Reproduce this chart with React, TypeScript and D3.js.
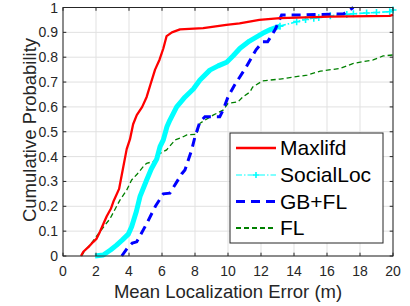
import React from 'react';
import * as d3 from 'd3';

const maxlifdX = [1.09, 1.23, 1.6, 1.84, 2.04, 2.24, 2.45, 2.65, 2.9, 3.05, 3.4, 3.56, 3.86, 4.06, 4.25, 4.47, 4.8, 5.07, 5.3, 5.58, 5.85, 6.08, 6.28, 6.6, 7.09, 8.5, 9.9, 10.7, 11.9, 13.15, 16.2, 19.8, 20];
const maxlifdY = [0, 0.017, 0.04, 0.057, 0.07, 0.098, 0.13, 0.16, 0.19, 0.218, 0.27, 0.326, 0.43, 0.47, 0.53, 0.567, 0.6, 0.64, 0.69, 0.75, 0.79, 0.835, 0.885, 0.9, 0.912, 0.917, 0.93, 0.936, 0.95, 0.957, 0.963, 0.966, 0.97];

const socialX = [1.94, 2.44, 2.9, 3.25, 3.6, 3.96, 4.16, 4.45, 4.67, 5.07, 5.35, 5.68, 5.88, 6.08, 6.3, 6.48, 6.89, 7.4, 7.9, 8.3, 8.9, 9.4, 9.92, 10.3, 10.73, 11.3, 12.1, 12.6, 13.15, 14.16, 14.7, 15.2, 15.5, 16.2, 17.2, 17.6, 18.4, 19.0, 19.8, 20];
const socialY = [0, 0.004, 0.025, 0.044, 0.065, 0.088, 0.118, 0.18, 0.24, 0.306, 0.35, 0.39, 0.44, 0.467, 0.52, 0.547, 0.6, 0.64, 0.672, 0.708, 0.748, 0.765, 0.78, 0.805, 0.836, 0.865, 0.896, 0.912, 0.925, 0.943, 0.952, 0.957, 0.96, 0.967, 0.972, 0.975, 0.978, 0.98, 0.983, 0.99];

const gbflX = [3.56, 3.96, 4.2, 4.47, 5.07, 5.6, 6.08, 6.48, 7.19, 7.39, 7.8, 8.0, 8.3, 8.6, 9.5, 9.7, 10.0, 10.4, 11.1, 11.7, 12.1, 12.4, 12.85, 13.25, 14.2, 17.0, 17.6];
const gbflY = [0, 0.037, 0.052, 0.057, 0.13, 0.2, 0.25, 0.253, 0.33, 0.346, 0.427, 0.48, 0.54, 0.56, 0.56, 0.587, 0.64, 0.688, 0.76, 0.83, 0.862, 0.862, 0.91, 0.97, 0.97, 0.974, 1.0];

const flX = [1.13, 1.3, 1.7, 2.24, 2.85, 3.45, 3.86, 4.16, 4.5, 4.87, 5.07, 5.47, 5.88, 6.28, 6.79, 7.29, 7.5, 8.1, 8.3, 9.1, 9.7, 10.0, 10.6, 10.9, 11.33, 11.5, 12.1, 13.15, 14.8, 15.6, 16.8, 17.6, 18.8, 19.4, 20];
const flY = [0, 0.02, 0.05, 0.098, 0.15, 0.225, 0.265, 0.306, 0.33, 0.36, 0.373, 0.38, 0.413, 0.427, 0.467, 0.48, 0.487, 0.49, 0.534, 0.567, 0.587, 0.614, 0.62, 0.64, 0.66, 0.68, 0.705, 0.712, 0.728, 0.744, 0.755, 0.775, 0.789, 0.805, 0.809];

const xTicks = [0, 2, 4, 6, 8, 10, 12, 14, 16, 18, 20];
const yTicks = [0, 0.1, 0.2, 0.3, 0.4, 0.5, 0.6, 0.7, 0.8, 0.9, 1];
const legendNames = ['Maxlifd', 'SocialLoc', 'GB+FL', 'FL'];

const W = 410;
const H = 306;
const m = { left: 63, right: 17, top: 7.5, bottom: 50 };
const font = 'Liberation Sans, Arial, sans-serif';
const axisColor = '#262626';

const App = () => {
  const x = d3.scaleLinear().domain([0, 20]).range([m.left, W - m.right]);
  const y = d3.scaleLinear().domain([0, 1]).range([H - m.bottom, m.top]);
  const line = d3.line<[number, number]>().x(d => x(d[0])).y(d => y(d[1]));
  const pts = (xs: number[], ys: number[]) => xs.map((v, i) => [v, ys[i]] as [number, number]);

  // SocialLoc markers are so dense below ~13 m that they merge into a thick band
  const social = pts(socialX, socialY);
  const socialDense = social.filter(d => d[0] <= 13.2);
  const socialTail = social.filter(d => d[0] >= 13.15);

  const x0 = x(0), x1 = x(20), y0 = y(0), y1 = y(1);
  const tick = 3.3;

  const styles = [
    { color: '#ff0000', width: 2.3, dash: '' },
    { color: '#00ffff', width: 1.3, dash: '6,2,1.5,2' },
    { color: '#0000ff', width: 3, dash: '9,6' },
    { color: '#008000', width: 1.3, dash: '5,3' },
  ];

  const plus = (cx: number, cy: number, s: number, key: string) => (
    <path key={key} d={`M${cx - s},${cy}H${cx + s}M${cx},${cy - s}V${cy + s}`} stroke="#00ffff" strokeWidth={1.6} />
  );

  const lx = 230, ly = 133, lw = 153, lh = 110;
  const rowY = [148, 175, 201.5, 228];

  return (
    <div style={{ position: 'fixed', left: 0, top: 0 }}>
      <svg width={W} height={H} style={{ display: 'block', background: '#fff' }} fontFamily={font}>
        <rect x={0} y={0} width={W} height={H} fill="#fff" />
        {/* grid */}
        {xTicks.map(t => (
          <line key={'gx' + t} x1={x(t)} x2={x(t)} y1={y0} y2={y1} stroke="#e1e1e1" strokeWidth={1} />
        ))}
        {yTicks.map(t => (
          <line key={'gy' + t} x1={x0} x2={x1} y1={y(t)} y2={y(t)} stroke="#e1e1e1" strokeWidth={1} />
        ))}

        {/* series */}
        <path d={line(pts(flX, flY)) || ''} fill="none" stroke={styles[3].color} strokeWidth={styles[3].width} strokeDasharray={styles[3].dash} />
        <path d={line(socialDense) || ''} fill="none" stroke="#00ffff" strokeWidth={5} strokeLinejoin="round" />
        <path d={line(socialTail) || ''} fill="none" stroke="#00ffff" strokeWidth={1.6} strokeDasharray={styles[1].dash} />
        {socialTail.map((d, i) => plus(x(d[0]), y(d[1]), 3.5, 'p' + i))}
        <path d={line(pts(gbflX, gbflY)) || ''} fill="none" stroke={styles[2].color} strokeWidth={styles[2].width} strokeDasharray={styles[2].dash} />
        <path d={line(pts(maxlifdX, maxlifdY)) || ''} fill="none" stroke={styles[0].color} strokeWidth={styles[0].width} strokeLinejoin="round" />

        {/* axes box */}
        <rect x={x0} y={y1} width={x1 - x0} height={y0 - y1} fill="none" stroke={axisColor} strokeWidth={1} />
        {xTicks.map(t => (
          <g key={'tx' + t}>
            <line x1={x(t)} x2={x(t)} y1={y0} y2={y0 - tick} stroke={axisColor} />
            <line x1={x(t)} x2={x(t)} y1={y1} y2={y1 + tick} stroke={axisColor} />
            <text x={x(t)} y={y0 + 20} textAnchor="middle" fontSize={14} fill={axisColor}>{t}</text>
          </g>
        ))}
        {yTicks.map(t => (
          <g key={'ty' + t}>
            <line x1={x0} x2={x0 + tick} y1={y(t)} y2={y(t)} stroke={axisColor} />
            <line x1={x1} x2={x1 - tick} y1={y(t)} y2={y(t)} stroke={axisColor} />
            <text x={x0 - 5} y={y(t)} dy="0.36em" textAnchor="end" fontSize={14} fill={axisColor}>{d3.format('')(t)}</text>
          </g>
        ))}

        <text x={(x0 + x1) / 2} y={298} textAnchor="middle" fontSize={18.5} fill={axisColor}>Mean Localization Error (m)</text>
        <text transform={`translate(36,130) rotate(-90)`} textAnchor="middle" fontSize={18.5} fill={axisColor}>Cumulative Probability</text>

        {/* legend */}
        <rect x={lx} y={ly} width={lw} height={lh} fill="#fff" stroke={axisColor} strokeWidth={1} />
        {legendNames.map((name, i) => (
          <g key={name}>
            <line x1={236} x2={276} y1={rowY[i]} y2={rowY[i]} stroke={styles[i].color}
              strokeWidth={i === 1 ? 1 : i === 3 ? 1.8 : styles[i].width} strokeDasharray={styles[i].dash} />
            {i === 1 && plus(256, rowY[i], 3, 'lp')}
            <text x={280} y={rowY[i]} dy="0.35em" fontSize={21} fill="#000">{name}</text>
          </g>
        ))}
      </svg>
    </div>
  );
};

export default App;
